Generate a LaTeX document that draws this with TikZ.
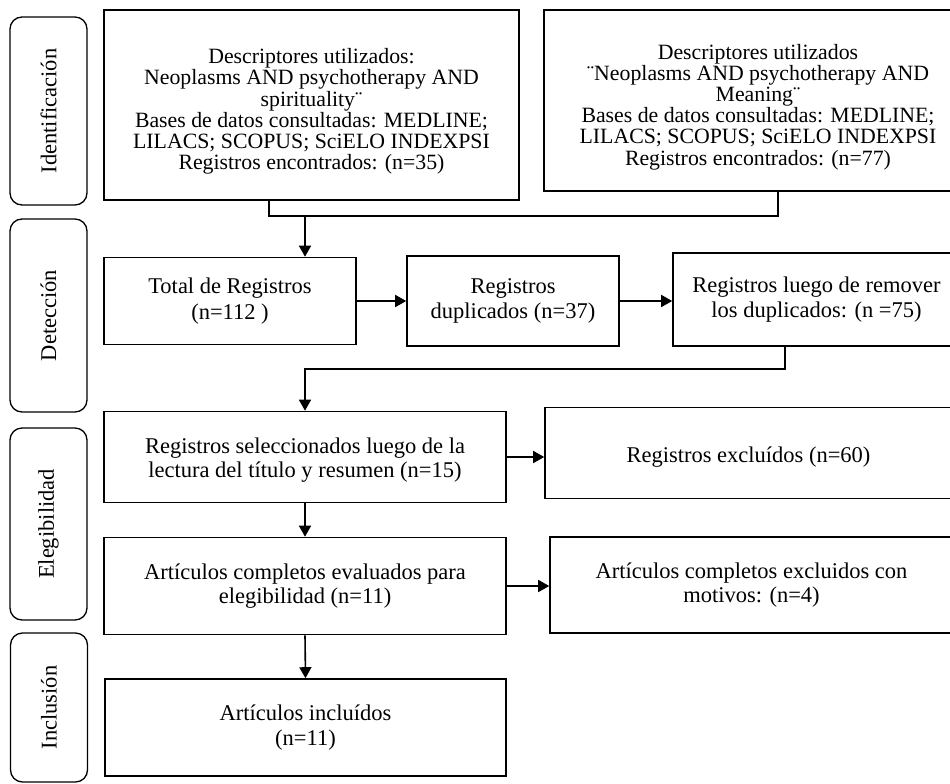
\documentclass[tikz,border=0pt]{standalone}
\usepackage{fontspec}
\setmainfont{Liberation Serif}
\usetikzlibrary{arrows.meta,calc,positioning}

\begin{document}
\begin{tikzpicture}[x=1pt, y=-1pt,
  font=\fontsize{22.5}{23.5}\selectfont,
  caja/.style={draw, line width=1.6pt, align=center, inner sep=0pt},
  busq/.style={caja, font=\fontsize{21.8}{21.2}\selectfont, text height=134pt},
  ancho/.style={font=\fontsize{22.5}{25.5}\selectfont},
  fase/.style={draw, line width=1.3pt, rounded corners=12pt, rotate=90, inner sep=0pt},
  flecha/.style={line width=1.6pt, -{Triangle[length=11pt, width=12pt]}}]
  \useasboundingbox (0,0) rectangle (950,784);
  \clip (0,0) rectangle (950,784);

  % Phase labels (rounded boxes on the left)
  \node[fase, minimum width=188, minimum height=77] (ident) at (48.5,111) {Identificación};
  \node[fase, minimum width=193, minimum height=77] (detec) at (48.5,315.5) {Detección};
  \node[fase, minimum width=192, minimum height=77] (eleg) at (48.5,524) {Elegibilidad};
  \node[fase, minimum width=149, minimum height=77] (incl) at (49,707.5) {Inclusión};

  % Search blocks
  \node[busq, minimum width=415, minimum height=190] (busq1) at (311.5,105)
    {Descriptores utilizados:\\ Neoplasms AND psychotherapy AND\\ spirituality¨\\
     Bases de datos consultadas: MEDLINE;\\ LILACS; SCOPUS; SciELO INDEXPSI\\
     Registros encontrados: (n=35)};
  \node[busq, minimum width=428, minimum height=181] (busq2) at (758,100.5)
    {Descriptores utilizados\\ ¨Neoplasms AND psychotherapy AND\\ Meaning¨\\
     Bases de datos consultadas: MEDLINE;\\ LILACS; SCOPUS; SciELO INDEXPSI\\
     Registros encontrados: (n=77)};

  % Screening row
  \node[caja, ancho, minimum width=252, minimum height=87] (total) at (230,301)
    {Total de Registros\\ (n=112 )};
  \node[caja, ancho, minimum width=212, minimum height=90] (dupl) at (513,301)
    {Registros\\ duplicados (n=37)};
  \node[caja, ancho, minimum width=287, minimum height=93] (sindupl) at (816.5,299.5)
    {Registros luego de remover\\ los duplicados: (n =75)};

  % Eligibility and inclusion
  \node[caja, minimum width=402, minimum height=91, text height=45pt] (selec) at (305,457)
    {Registros seleccionados luego de la\\ lectura del título y resumen (n=15)};
  \node[caja, minimum width=407, minimum height=91, text height=23.5pt] (excl) at (748.5,453)
    {Registros excluídos (n=60)};
  \node[caja, minimum width=402, minimum height=97] (eval) at (305,586)
    {Artículos completos evaluados para\\ elegibilidad (n=11)};
  \node[caja, minimum width=403, minimum height=96] (exclmot) at (751.5,585)
    {Artículos completos excluidos con\\ motivos: (n=4)};
  \node[caja, ancho, minimum width=401, minimum height=97] (incluidos) at (305.5,727.5)
    {Artículos incluídos\\ (n=11)};

  % Connectors
  \coordinate (j1) at (269,216);
  \coordinate (j2) at (778,216);
  \coordinate (j3) at (785,369);
  \draw[line width=1.6pt] (busq1.south -| j1) -- (j1) -- (j2) -- (busq2.south -| j2);
  \draw[flecha] (j1 -| selec.north) -- (total.north -| selec.north);
  \draw[flecha] (total.east) -- (total.east -| dupl.west);
  \draw[flecha] (dupl.east) -- (dupl.east -| sindupl.west);
  \draw[flecha] (sindupl.south -| j3) -- (j3) -- (j3 -| selec.north) -- (selec.north);
  \draw[flecha] (selec.east) -- (selec.east -| excl.west);
  \draw[flecha] (selec.south) -- (eval.north);
  \draw[flecha] (eval.east) -- (eval.east -| exclmot.west);
  \draw[flecha] (eval.south) -- (incluidos.north);
\end{tikzpicture}
\end{document}
